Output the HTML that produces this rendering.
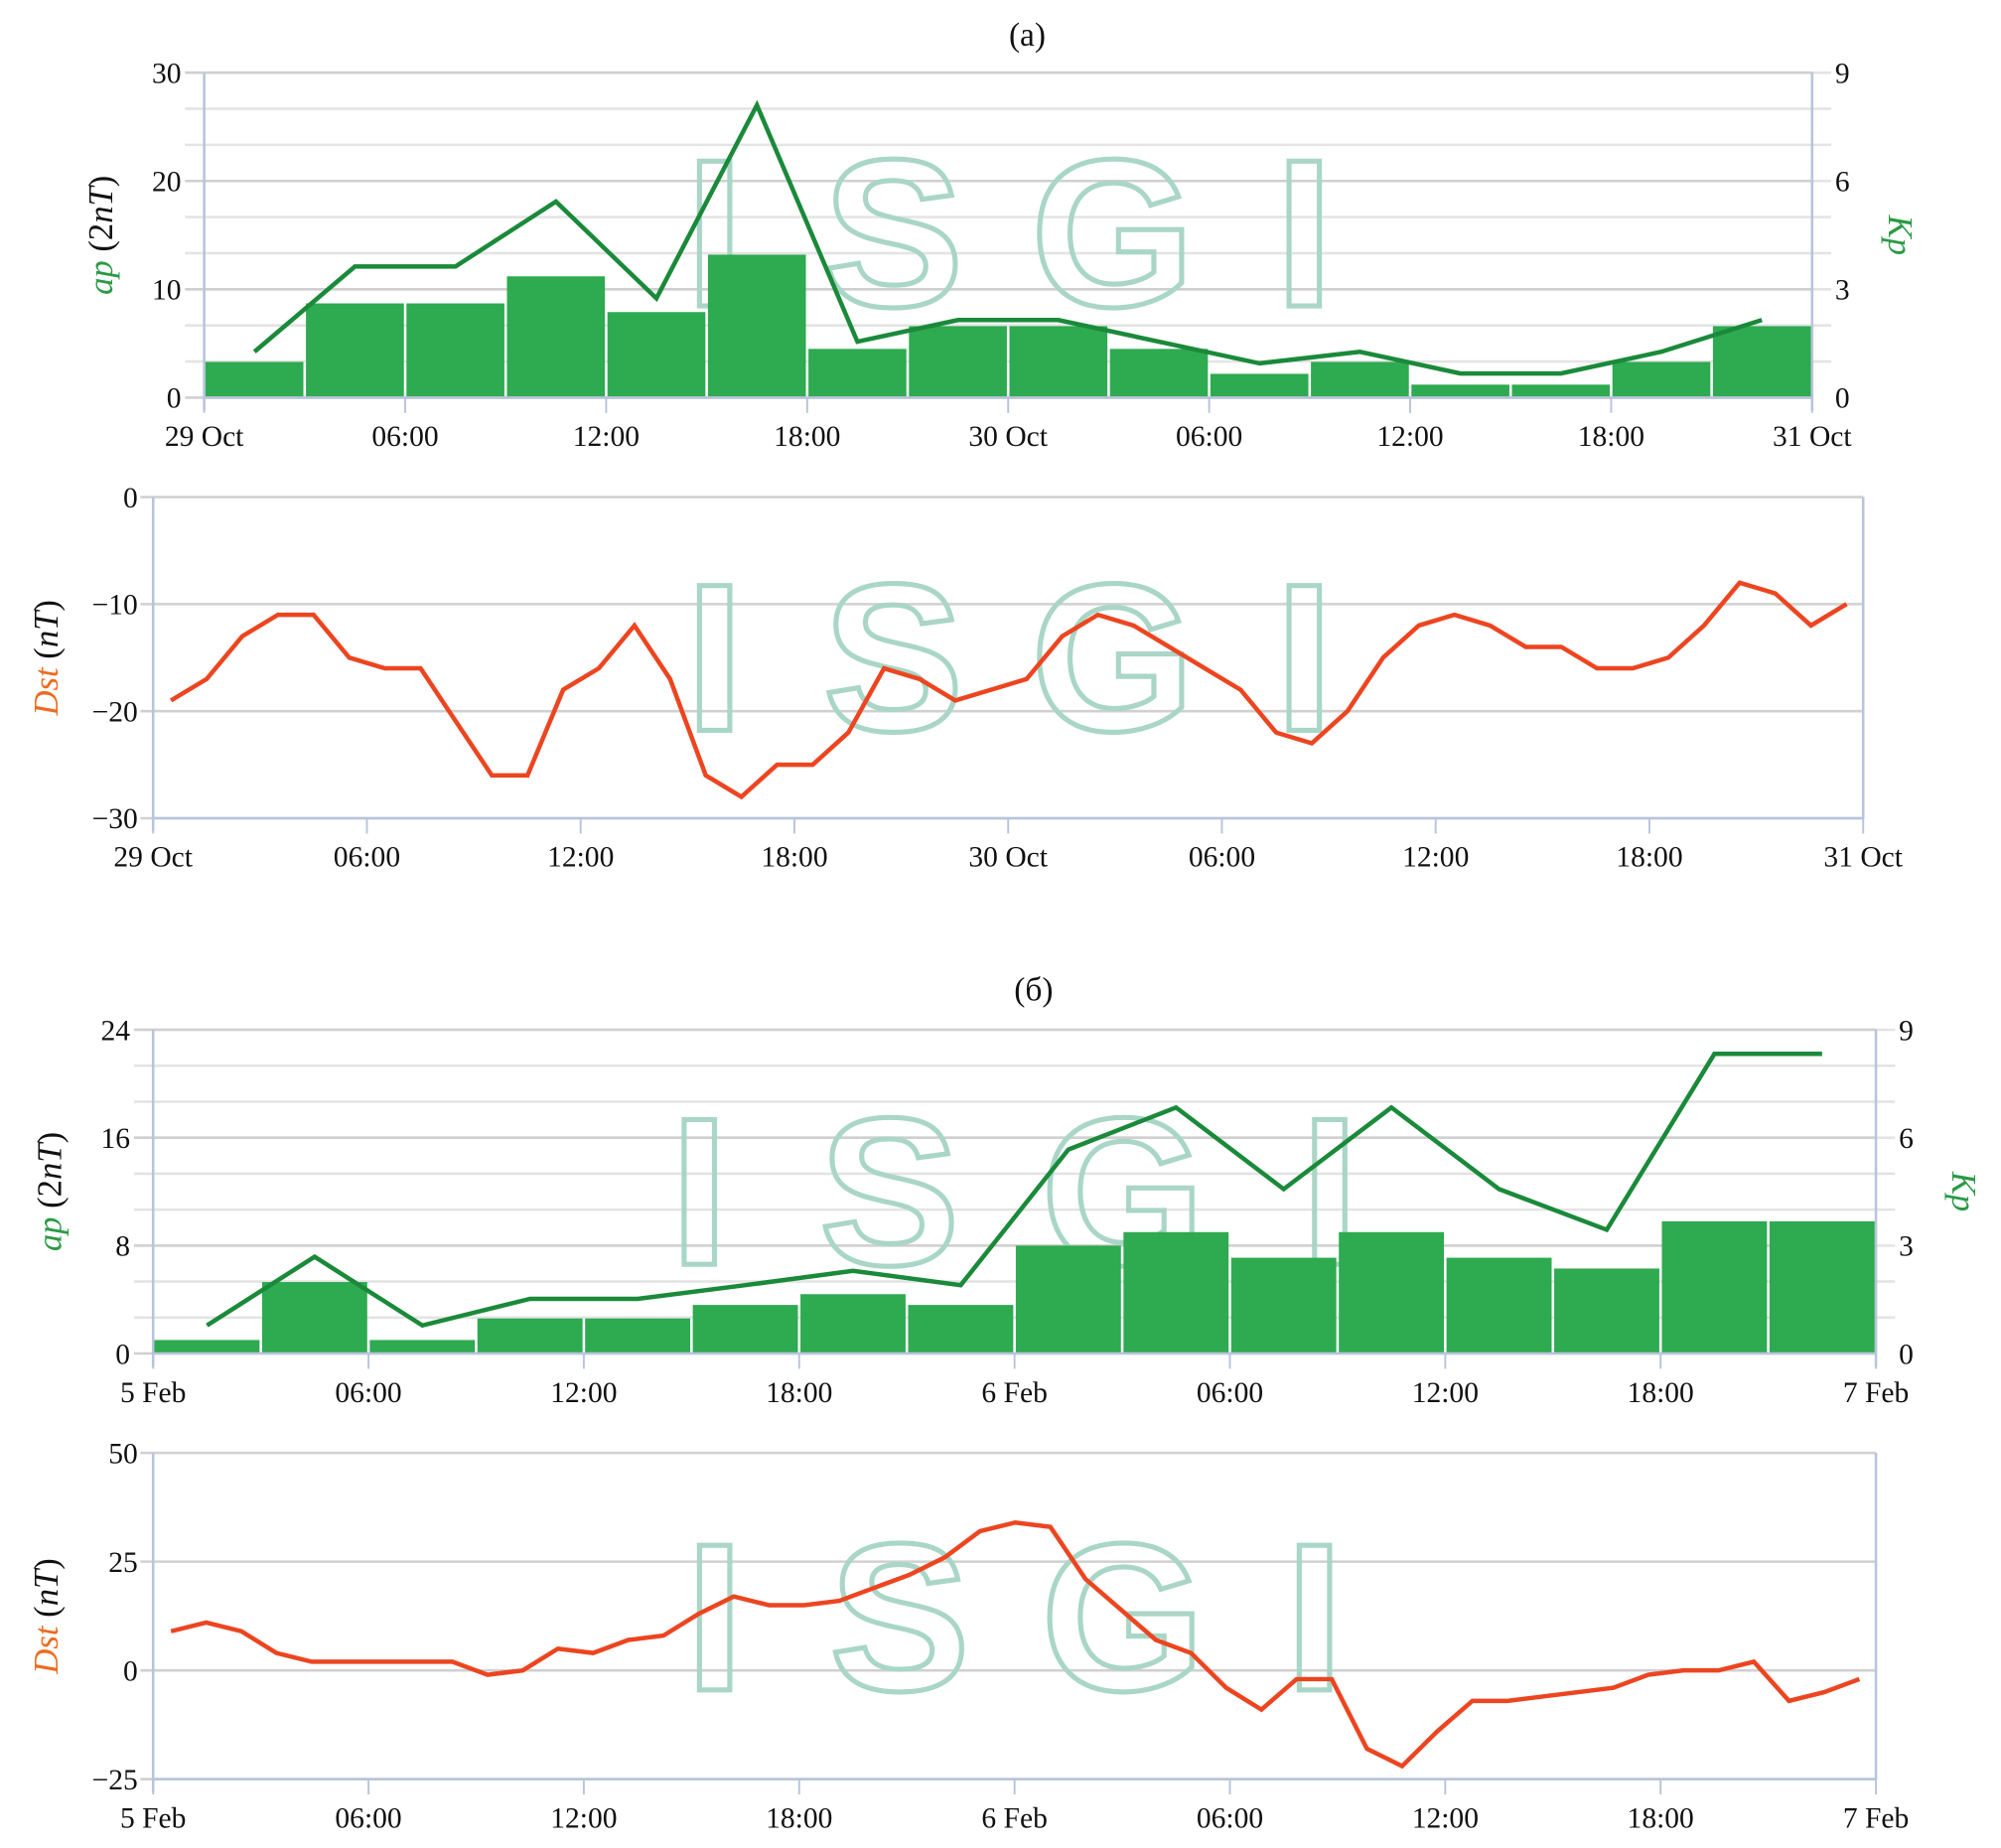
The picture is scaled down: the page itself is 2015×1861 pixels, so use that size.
<!DOCTYPE html>
<html><head><meta charset="utf-8">
<style>
html,body{margin:0;padding:0;background:#fff;}
svg{display:block;}
text{font-family:"Liberation Serif",serif;}
</style></head>
<body>
<svg id="chart" width="2015" height="1861" viewBox="0 0 1568 1450" preserveAspectRatio="none" xmlns="http://www.w3.org/2000/svg"></svg>
<script>
// ---- Data ----
const apA = [3.3, 8.7, 8.7, 11.2, 7.9, 13.2, 4.5, 6.6, 6.6, 4.5, 2.2, 3.3, 1.2, 1.2, 3.3, 6.6];
const kpA = [1.27, 3.63, 3.63, 5.43, 2.75, 8.1, 1.55, 2.15, 2.15, 1.55, 0.95, 1.27, 0.67, 0.67, 1.27, 2.15];
const dstA = [-19,-17,-13,-11,-11,-15,-16,-16,-21,-26,-26,-18,-16,-12,-17,-26,-28,-25,-25,-22,-16,-17,-19,-18,-17,-13,-11,-12,-14,-16,-18,-22,-23,-20,-15,-12,-11,-12,-14,-14,-16,-16,-15,-12,-8,-9,-12,-10];
const apB = [1, 5.3, 1, 2.6, 2.6, 3.6, 4.4, 3.6, 8, 9, 7.1, 9, 7.1, 6.3, 9.8, 9.8];
const kpB = [0.78, 2.69, 0.78, 1.52, 1.52, 1.9, 2.3, 1.9, 5.67, 6.84, 4.57, 6.84, 4.57, 3.44, 8.33, 8.33];
const dstB = [9,11,9,4,2,2,2,2,2,-1,0,5,4,7,8,13,17,15,15,16,19,22,26,32,34,33,21,14,7,4,-4,-9,-2,-2,-18,-22,-14,-7,-7,-6,-5,-4,-1,0,0,2,-7,-5,-2];
const xTicksA = ["29 Oct","06:00","12:00","18:00","30 Oct","06:00","12:00","18:00","31 Oct"];
const xTicksB = ["5 Feb","06:00","12:00","18:00","6 Feb","06:00","12:00","18:00","7 Feb"];
const apTicksA = [0,10,20,30];
const kpTicks = [0,3,6,9];
const dstTicksA = [0,-10,-20,-30];
const apTicksB = [0,8,16,24];
const dstTicksB = [50,25,0,-25];

const NS = "http://www.w3.org/2000/svg";
const svg = document.getElementById('chart');
function mk(tag, attrs, parent){
  const e = document.createElementNS(NS, tag);
  for (const k in attrs) e.setAttribute(k, attrs[k]);
  (parent||svg).appendChild(e);
  return e;
}
function lin(d0,d1,r0,r1){return v=>r0+(v-d0)/(d1-d0)*(r1-r0);}

function watermark(xs, yBase, size){
  const g = mk('g', {});
  
  
  "ISGI".split("").forEach((ch,i)=>{
    const t = mk('text', {x:xs[i], y:yBase, 'font-size':size, 'font-weight':'bold', fill:'none', stroke:'#a9d6c6', 'stroke-width':4, 'text-anchor':'middle', style:'font-family:"Liberation Sans",sans-serif'}, g);
    t.textContent = ch;
  });
}

function xAxis(x0, x1, yAxis, labels, name){
  const g = mk('g', {});
  
  
  mk('line', {x1:x0, x2:x1, y1:yAxis, y2:yAxis, stroke:'#b8c4dc', 'stroke-width':2}, g);
  const xs = lin(0, labels.length-1, x0, x1);
  labels.forEach((l,i)=>{
    mk('line', {x1:xs(i), x2:xs(i), y1:yAxis, y2:yAxis+12, stroke:'#b8c4dc', 'stroke-width':1.5}, g);
    const t = mk('text', {x:xs(i), y:yAxis+38, 'font-size':23, 'text-anchor':'middle', fill:'#111'}, g);
    t.textContent = l;
  });
}

function hGrid(x0,x1,ys,color,w){
  ys.forEach(y=>{ mk('line', {x1:x0, x2:x1, y1:y, y2:y, stroke:color, 'stroke-width':w}); });
}

function apPanel(cfg){
  const {x0,x1,yTop,yBot,apMax,apTicks,ap,kp,xLabels,title,titleY,wm,wmY,wmName} = cfg;
  const t = mk('text', {x:(x0+x1)/2+15, y:titleY, 'font-size':26, 'text-anchor':'middle', fill:'#111'});
  
  
  t.textContent = title;
  const yAp = lin(0, apMax, yBot, yTop);
  const yKp = lin(0, 9, yBot, yTop);
  const kpLines = []; for (let k=1;k<=9;k++) kpLines.push(yKp(k));
  hGrid(x0-15, x1+15, kpLines, '#e4e4e4', 2);
  hGrid(x0-15, x1, apTicks.map(yAp), '#d0d0d0', 2);
  mk('line', {x1:x0, x2:x0, y1:yTop, y2:yBot+10, stroke:'#b8c4dc', 'stroke-width':2});
  mk('line', {x1:x1, x2:x1, y1:yTop, y2:yBot+10, stroke:'#b8c4dc', 'stroke-width':2});
  watermark(wm, wmY, 165);
  const xs = lin(0, 48, x0, x1);
  const bars = mk('g', {});
  
  
  ap.forEach((v,i)=>{
    const r = mk('rect', {x:xs(i*3)+1, y:yAp(v), width:xs(3)-xs(0)-2, height:yBot-yAp(v), fill:'#2eaa50'}, bars);
    
    
  });
  const pts = kp.map((v,i)=>xs(i*3+1.5)+','+yKp(v)).join(' ');
  const pl = mk('polyline', {points:pts, fill:'none', stroke:'#1a8a3a', 'stroke-width':3.5, 'stroke-linejoin':'miter'});
  
  
  xAxis(x0, x1, yBot, xLabels, wmName+'-x-axis');
  apTicks.forEach(v=>{
    const tt = mk('text', {x:x0-18, y:yAp(v)+8, 'font-size':23, 'text-anchor':'end', fill:'#111'});
    
    
    tt.textContent = v;
  });
  kpTicks.forEach(v=>{
    const tt = mk('text', {x:x1+18, y:yKp(v)+8, 'font-size':23, 'text-anchor':'start', fill:'#111'});
    
    
    tt.textContent = v;
  });
  const cy = (yTop+yBot)/2;
  const yl = mk('text', {x:0, y:0, 'font-size':27, 'text-anchor':'middle', transform:`translate(${x0-72},${cy}) rotate(-90)`, fill:'#111'});
  
  
  yl.innerHTML = '<tspan font-style="italic" fill="#2a9a45">ap</tspan> (2<tspan font-style="italic">nT</tspan>)';
  const kl = mk('text', {x:0, y:0, 'font-size':27, 'font-style':'italic', 'text-anchor':'middle', fill:'#2a9a45', transform:`translate(${x1+60},${cy}) rotate(90)`});
  
  
  kl.textContent = 'Kp';
}

function dstPanel(cfg){
  const {x0,x1,yTop,yBot,dMin,dMax,ticks,dst,xLabels,wm,wmY,name,pStart,pEnd} = cfg;
  const yD = lin(dMin, dMax, yBot, yTop);
  hGrid(x0-10, x1, ticks.map(yD), '#d0d0d0', 2);
  mk('line', {x1:x0, x2:x0, y1:yTop, y2:yBot+10, stroke:'#b8c4dc', 'stroke-width':2});
  mk('line', {x1:x1, x2:x1, y1:yTop, y2:yBot, stroke:'#b8c4dc', 'stroke-width':2});
  watermark(wm, wmY, 165);
  const xs = lin(0, dst.length-1, pStart, pEnd);
  const pl = mk('polyline', {points:dst.map((v,i)=>xs(i)+','+yD(v)).join(' '), fill:'none', stroke:'#ec4520', 'stroke-width':3.5});
  
  
  xAxis(x0, x1, yBot, xLabels, name+'-x-axis');
  ticks.forEach(v=>{
    const tt = mk('text', {x:x0-12, y:yD(v)+8, 'font-size':23, 'text-anchor':'end', fill:'#111'});
    
    
    tt.textContent = v<0 ? '\u2212'+(-v) : v;
  });
  const cy = (yTop+yBot)/2;
  const yl = mk('text', {x:0, y:0, 'font-size':27, 'text-anchor':'middle', transform:`translate(${x0-75},${cy}) rotate(-90)`, fill:'#111'});
  
  
  yl.innerHTML = '<tspan font-style="italic" fill="#ee6a1e">Dst</tspan> (<tspan font-style="italic">nT</tspan>)';
}

apPanel({x0:160,x1:1420,yTop:57,yBot:312,apMax:30,apTicks:apTicksA,ap:apA,kp:kpA,xLabels:xTicksA,title:'(a)',titleY:36,wm:[560,700,872,1022],wmY:240,wmName:'panel-a'});
dstPanel({x0:120,x1:1460,yTop:390,yBot:642,dMin:-30,dMax:0,ticks:dstTicksA,dst:dstA,xLabels:xTicksA,wm:[560,700,872,1022],wmY:573,name:'panel-a',pStart:134,pEnd:1447});
apPanel({x0:120,x1:1470,yTop:808,yBot:1062,apMax:24,apTicks:apTicksB,ap:apB,kp:kpB,xLabels:xTicksB,title:'(\u0431)',titleY:785,wm:[548,697,880,1042],wmY:992,wmName:'panel-b'});
dstPanel({x0:120,x1:1470,yTop:1140,yBot:1396,dMin:-25,dMax:50,ticks:dstTicksB,dst:dstB,xLabels:xTicksB,wm:[560,705,880,1030],wmY:1326,name:'panel-b',pStart:134,pEnd:1457});
</script>
</body></html>
